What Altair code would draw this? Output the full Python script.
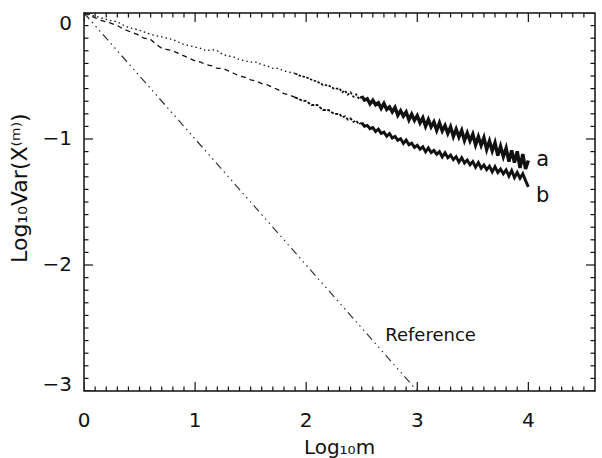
import altair as alt
import pandas as pd

# ---------------- data ----------------
x_vals = [
    0.00, 0.08, 0.16, 0.24, 0.30, 0.36, 0.42, 0.48, 0.54, 0.60, 0.65, 0.70, 0.75,
    0.80, 0.85, 0.90, 0.95, 1.00, 1.05, 1.10, 1.15, 1.20, 1.25, 1.30, 1.35, 1.40,
    1.45, 1.50, 1.55, 1.60, 1.65, 1.70, 1.75, 1.80, 1.85, 1.90, 1.95,
    2.00, 2.05, 2.10, 2.15, 2.20, 2.25,
    2.300, 2.325, 2.350, 2.375, 2.400, 2.425, 2.450, 2.475, 2.500, 2.525, 2.550,
    2.575, 2.600, 2.625, 2.650, 2.675, 2.700, 2.725, 2.750, 2.775, 2.800, 2.825,
    2.850, 2.875, 2.900, 2.925, 2.950, 2.975,
    3.000, 3.025, 3.050, 3.075, 3.100, 3.125, 3.150, 3.175, 3.200, 3.225, 3.250,
    3.275, 3.300, 3.325, 3.350, 3.375, 3.400, 3.425, 3.450, 3.475, 3.500, 3.525,
    3.550, 3.575, 3.600, 3.625, 3.650, 3.675, 3.700, 3.725, 3.750, 3.775, 3.800,
    3.825, 3.850, 3.875, 3.900, 3.925, 3.950, 3.975, 4.000,
]

a_vals = [
    0.00, -0.02, -0.04, -0.06, -0.07, -0.10, -0.12, -0.13, -0.15, -0.17, -0.18, -0.19, -0.20,
    -0.21, -0.23, -0.25, -0.26, -0.27, -0.28, -0.30, -0.29, -0.30, -0.33, -0.34, -0.35, -0.37,
    -0.38, -0.39, -0.39, -0.41, -0.42, -0.44, -0.44, -0.46, -0.47, -0.48, -0.50,
    -0.51, -0.53, -0.545, -0.57, -0.575, -0.60,
    -0.600, -0.630, -0.616, -0.648, -0.630, -0.665, -0.645, -0.683, -0.660, -0.692, -0.681,
    -0.722, -0.693, -0.728, -0.712, -0.757, -0.718, -0.765, -0.745, -0.785, -0.749, -0.812,
    -0.775, -0.818, -0.786, -0.848, -0.803, -0.852,
    -0.815, -0.872, -0.832, -0.899, -0.846, -0.903, -0.864, -0.931, -0.872, -0.936, -0.893,
    -0.955, -0.903, -0.980, -0.922, -0.984, -0.932, -1.012, -0.952, -1.015, -0.963, -1.046,
    -0.981, -1.050, -0.990, -1.083, -1.016, -1.094, -1.030, -1.132, -1.058, -1.140, -1.072,
    -1.180, -1.090, -1.188, -1.098, -1.230, -1.120, -1.238, -1.170,
]

b_vals = [
    0.00, -0.03, -0.06, -0.08, -0.10, -0.13, -0.15, -0.17, -0.20, -0.21, -0.25, -0.28, -0.29,
    -0.30, -0.32, -0.34, -0.36, -0.38, -0.39, -0.41, -0.42, -0.44, -0.44, -0.46, -0.48, -0.50,
    -0.51, -0.53, -0.54, -0.56, -0.57, -0.59, -0.61, -0.64, -0.65, -0.67, -0.69,
    -0.70, -0.73, -0.73, -0.77, -0.77, -0.80,
    -0.802, -0.827, -0.819, -0.846, -0.837, -0.865, -0.854, -0.883, -0.871, -0.899, -0.892,
    -0.918, -0.909, -0.941, -0.922, -0.955, -0.945, -0.978, -0.956, -0.992, -0.980, -1.010,
    -0.997, -1.035, -1.008, -1.046, -1.033, -1.066,
    -1.050, -1.081, -1.062, -1.101, -1.070, -1.108, -1.090, -1.122, -1.101, -1.142, -1.109,
    -1.149, -1.128, -1.164, -1.140, -1.183, -1.148, -1.190, -1.167, -1.204, -1.179, -1.224,
    -1.187, -1.231, -1.206, -1.244, -1.216, -1.261, -1.220, -1.266, -1.238, -1.277, -1.246,
    -1.294, -1.250, -1.306, -1.266, -1.311, -1.275, -1.330, -1.380,
]

ref_x = [0.0, 3.0]
ref_y = [0.0, -3.0]

label_text = ["a", "b", "Reference"]
label_x = [4.13, 4.13, 3.12]
label_y = [-1.17, -1.45, -2.56]
label_size = [21, 21, 18]

x_major = [0, 1, 2, 3, 4]
y_major = [-3, -2, -1, 0]
x_tick_labels = ["0", "1", "2", "3", "4"]
y_tick_labels = ["−3", "−2", "−1", "0"]
x_title = "Log₁₀m"
y_title = "Log₁₀Var(X⁽ᵐ⁾)"
x_minor = [round(m + k / 10, 1) for m in x_major for k in range(1, 10) if m + k / 10 < 4.6]
y_minor = [round(m + k / 10, 1) for m in y_major[:-1] for k in range(1, 10)]

X_MIN, X_MAX, Y_MIN, Y_MAX = 0, 4.6, -3, 0
W, H = 511, 378

# ---------------- tables ----------------
df_a = pd.DataFrame({"x": x_vals, "y": a_vals})
df_b = pd.DataFrame({"x": x_vals, "y": b_vals})
df_ref = pd.DataFrame({"x": ref_x, "y": ref_y})
df_lab = pd.DataFrame({"t": label_text, "x": label_x, "y": label_y, "s": label_size})
df_xl = pd.DataFrame({"v": x_major, "t": x_tick_labels, "y": Y_MIN})
df_yl = pd.DataFrame({"v": y_major, "t": y_tick_labels, "x": X_MIN})
df_xt = pd.DataFrame({"t": [x_title], "x": [(X_MIN + X_MAX) / 2], "y": [Y_MIN]})
df_yt = pd.DataFrame({"t": [y_title], "x": [-0.575], "y": [-1.39]})

xscale = alt.Scale(domain=[X_MIN, X_MAX], nice=False, zero=False)
yscale = alt.Scale(domain=[Y_MIN, Y_MAX], nice=False, zero=False)
INK = "#111111"
FONT = "DejaVu Sans"

# invisible native axes (labels/ticks are drawn below as marks)
hidden_x_axis = alt.Axis(labels=False, ticks=False, domain=False, grid=False, title="")
hidden_y_axis = alt.Axis(labels=False, ticks=False, domain=False, grid=False, title="")


def X(f="x"):
    return alt.X(f"{f}:Q", scale=xscale, axis=None)


def Y(f="y"):
    return alt.Y(f"{f}:Q", scale=yscale, axis=None)


def part(df, lo, hi):
    return df[(df.x >= lo) & (df.x <= hi)]


layers = [
    # curve a: sparse dotted start, denser middle, solid noisy band at the end
    alt.Chart(part(df_a, 0, 1.9)).mark_line(color=INK, strokeWidth=1.3, strokeDash=[1.5, 3]).encode(
        x=alt.X("x:Q", scale=xscale, axis=hidden_x_axis),
        y=alt.Y("y:Q", scale=yscale, axis=hidden_y_axis)),
    alt.Chart(part(df_a, 1.9, 2.5)).mark_line(color=INK, strokeWidth=1.7, strokeDash=[2.5, 1.5]).encode(x=X(), y=Y()),
    alt.Chart(part(df_a, 2.5, 4.0)).mark_line(color=INK, strokeWidth=3.4).encode(x=X(), y=Y()),
    # curve b: dashed start, then solid noisy band
    alt.Chart(part(df_b, 0, 1.9)).mark_line(color=INK, strokeWidth=1.3, strokeDash=[5, 4]).encode(x=X(), y=Y()),
    alt.Chart(part(df_b, 1.9, 2.5)).mark_line(color=INK, strokeWidth=1.8, strokeDash=[3, 1.5]).encode(x=X(), y=Y()),
    alt.Chart(part(df_b, 2.5, 4.0)).mark_line(color=INK, strokeWidth=2.9).encode(x=X(), y=Y()),
    # reference slope -1
    alt.Chart(df_ref).mark_line(color="#333333", strokeWidth=1.2,
                                strokeDash=[8, 4, 1.5, 4, 1.5, 4, 1.5, 4]).encode(x=X(), y=Y()),
    # curve labels
    alt.Chart(df_lab).mark_text(color=INK, font=FONT, align="center", baseline="middle").encode(
        x=X(), y=Y(), text="t:N", size=alt.Size("s:Q", scale=None, legend=None)),
]


# inward ticks on all four sides: ticks centred on the frame, clipped to the plot area
def xticks(values, at, length):
    return alt.Chart(pd.DataFrame({"v": values})).mark_tick(
        orient="vertical", size=2 * length, thickness=1.2, color=INK, clip=True, opacity=1
    ).encode(x=alt.X("v:Q", scale=xscale, axis=None), y=alt.YDatum(at, axis=None))


def yticks(values, at, length):
    return alt.Chart(pd.DataFrame({"v": values})).mark_tick(
        orient="horizontal", size=2 * length, thickness=1.2, color=INK, clip=True, opacity=1
    ).encode(y=alt.Y("v:Q", scale=yscale, axis=None), x=alt.XDatum(at, axis=None))


layers += [
    xticks(x_major, Y_MIN, 9), xticks(x_minor, Y_MIN, 4.5),
    xticks(x_major, Y_MAX, 9), xticks(x_minor, Y_MAX, 4.5),
    yticks(y_major, X_MIN, 9), yticks(y_minor, X_MIN, 4.5),
    yticks(y_major, X_MAX, 9), yticks(y_minor, X_MAX, 4.5),
]

# tick labels and axis titles, placed through the scales
txt = dict(color=INK, font=FONT)
layers += [
    alt.Chart(df_xl).mark_text(fontSize=20, align="center", baseline="middle", dy=30, **txt).encode(
        x=X("v"), y=Y(), text="t:N"),
    alt.Chart(df_yl[(df_yl.v > Y_MIN) & (df_yl.v < Y_MAX)]).mark_text(
        fontSize=20, align="right", baseline="middle", dx=-12, **txt).encode(
        y=Y("v"), x=X(), text="t:N"),
    alt.Chart(df_yl[df_yl.v == Y_MAX]).mark_text(
        fontSize=20, align="right", baseline="top", dx=-12, dy=1, **txt).encode(
        y=Y("v"), x=X(), text="t:N"),
    alt.Chart(df_yl[df_yl.v == Y_MIN]).mark_text(
        fontSize=20, align="right", baseline="bottom", dx=-12, dy=4, **txt).encode(
        y=Y("v"), x=X(), text="t:N"),
    alt.Chart(df_xt).mark_text(fontSize=20, align="center", baseline="middle", dy=57, **txt).encode(
        x=X(), y=Y(), text="t:N"),
    alt.Chart(df_yt).mark_text(fontSize=22, align="center", baseline="middle", angle=270, **txt).encode(
        x=X(), y=Y(), text="t:N"),
]

chart = alt.layer(*layers).properties(
    width=W, height=H,
    autosize=alt.AutoSizeParams(type="none"),
    padding={"left": 84, "top": 13, "right": 7, "bottom": 67},
    background="white",
).configure_view(
    stroke=INK, strokeWidth=1.5
).configure_axis(
    labelFont=FONT, titleFont=FONT, labelColor=INK, titleColor=INK
)

chart.save("out.html", embed_options={"renderer": "svg", "actions": False})
